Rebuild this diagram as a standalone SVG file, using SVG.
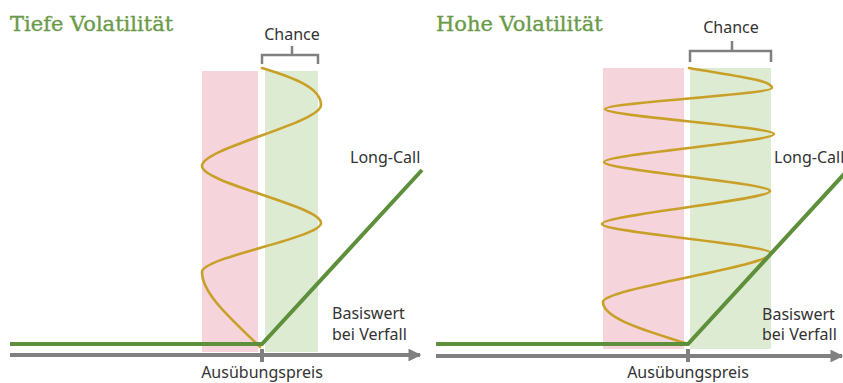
<svg xmlns="http://www.w3.org/2000/svg" width="843" height="383" viewBox="0 0 843 383">
<defs>
<style>
.title{font-family:"DejaVu Serif","Liberation Serif",serif;font-size:21px;fill:#6a9a48;stroke:#6a9a48;stroke-width:0.35}
.lbl{font-family:"Noto Sans","Open Sans",sans-serif;font-size:16px;fill:#333}
.pink{fill:#f5d4dc}
.grn{fill:#deebd3}
.wave{fill:none;stroke:#c9a027;stroke-width:2.6;stroke-linecap:round;stroke-linejoin:round}
.call{fill:none;stroke:#5e8f3a;stroke-width:4}
.axis{fill:none;stroke:#808080;stroke-width:4}
.brk{fill:none;stroke:#808080;stroke-width:2.5}
</style>
<marker id="arr" viewBox="0 0 10 10" refX="9" refY="5" markerWidth="3.2" markerHeight="3.2" orient="auto" markerUnits="strokeWidth">
<path d="M0,0 L10,5 L0,10 z" fill="#808080"/>
</marker>
</defs>
<rect width="843" height="383" fill="#fff"/>

<g id="left-panel">
<text class="title" x="10" y="31">Tiefe Volatilität</text>
<rect class="pink" x="202" y="71" width="56" height="281"/>
<rect class="grn" x="265" y="71" width="53" height="281"/>
</g>
<g id="left-chance">
<path class="brk" d="M262,64 L262,55 L318,55 L318,64 M292,55 L292,46"/>
<text class="lbl" x="292" y="40" text-anchor="middle">Chance</text>
</g>
<g id="left-wave">
<path class="wave" d="M262,68 C295,78 321,88 321,105 C321,123 202,148 202,166 C202,183 321,206 321,223 C321,238 202,257 202,272 C202,295 235,322 260,347"/>
</g>
<g id="left-labels">
<text class="lbl" x="350" y="163">Long-Call</text>
<text class="lbl" x="332" y="319">Basiswert</text>
<text class="lbl" x="332" y="340">bei Verfall</text>
<text class="lbl" x="262" y="378" text-anchor="middle">Ausübungspreis</text>
</g>

<g id="right-panel">
<text class="title" x="436" y="31">Hohe Volatilität</text>
<rect class="pink" x="603" y="68" width="81" height="281"/>
<rect class="grn" x="690" y="68" width="81" height="281"/>
</g>
<g id="right-chance">
<path class="brk" d="M690,62 L690,51 L771,51 L771,62 M732,51 L732,41"/>
<text class="lbl" x="731" y="33" text-anchor="middle">Chance</text>
</g>
<g id="right-wave">
<path class="wave" d="M689,68 C735,76 772,80 772,88 C772,93.9 605,103.1 605,109 C605,116 774,127 774,134 C774,141.8 604,154.2 604,162 C604,170.1 770,182.9 770,191 C770,200.2 602,214.8 602,224 C602,232.1 771,244.9 771,253 C771,266.7 603,288.3 603,302 C603,320 655,333 688,344"/>
</g>
<g id="right-labels">
<text class="lbl" x="774" y="163">Long-Call</text>
<text class="lbl" x="762" y="320">Basiswert</text>
<text class="lbl" x="762" y="340">bei Verfall</text>
<text class="lbl" x="688" y="378" text-anchor="middle">Ausübungspreis</text>
</g>

<g id="connectors">
<path class="call" d="M10,344 L262,344 L422,170"/>
<path class="call" d="M436,344 L688,344 L846,172"/>
<line class="axis" x1="10" y1="355" x2="420" y2="355" marker-end="url(#arr)"/>
<line class="axis" x1="262" y1="349" x2="262" y2="362"/>
<line class="axis" x1="436" y1="356" x2="842" y2="356" marker-end="url(#arr)"/>
<line class="axis" x1="688" y1="349" x2="688" y2="362"/>
</g>
</svg>
